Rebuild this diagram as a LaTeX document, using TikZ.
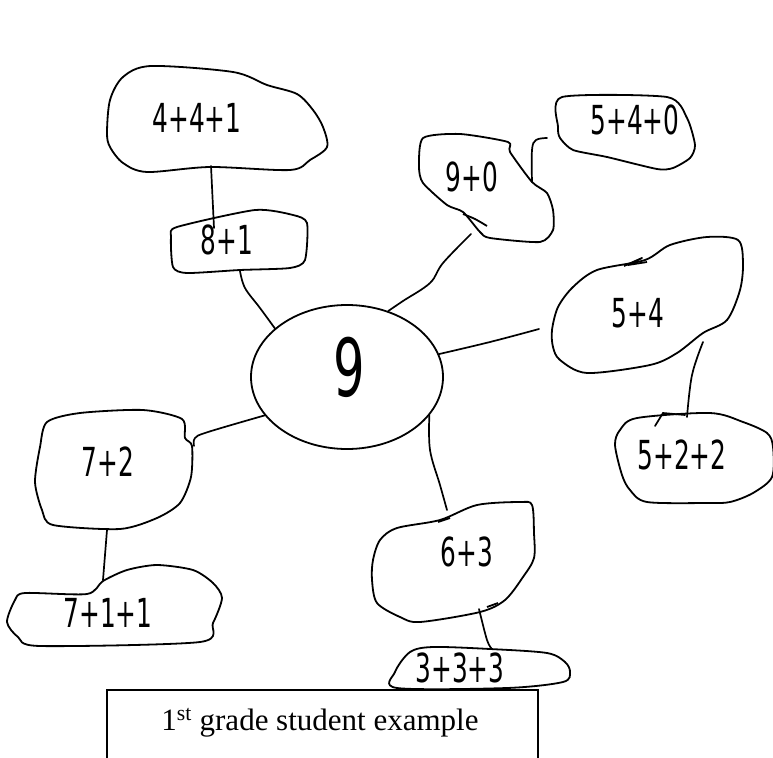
\documentclass[tikz,border=0pt]{standalone}
\usepackage{fontspec}
\setmainfont{Liberation Serif}
\newfontfamily\handfont{DejaVu Sans}[FakeStretch=0.62]
\usetikzlibrary{shapes.geometric}
\tikzset{
  blob/.style={line width=1.8pt, line join=round},
  hand/.style={font=\handfont\fontsize{40}{44}\selectfont, inner sep=0pt}
}

\begin{document}
\begin{tikzpicture}[x=1pt, y=-1pt,
  link/.style={line width=1.7pt, line cap=round},
  caption/.style={font=\fontsize{31}{36}\selectfont, anchor=base}
]
  \useasboundingbox (0,0) rectangle (773,757);
  % centre
  \node[draw, ellipse, line width=1.8pt, minimum width=192pt, minimum height=144pt, inner sep=0pt] (nine) at (347,377) {};
  \node[hand, font=\handfont\fontsize{80}{84}\selectfont] (t9) at (349,367) {9};
  % blobs
  \draw[blob] plot[smooth cycle, tension=0.5] coordinates {(151,66) (233,72) (267,85) (297,94) (313,110) (323,127) (327,147) (310,160) (290,170) (210,167) (147,172) (123,163) (110,147) (107,133) (110,100) (123,77)};
  \node[hand] (t441) at (197,118) {4+4+1};
  \draw[blob] plot[smooth cycle, tension=0.4] coordinates {(177,227) (255,210) (293,215) (307,223) (305,260) (290,268) (240,270) (187,273) (173,267) (171,237)};
  \node[hand] (t81) at (227,240) {8+1};
  \draw[blob] plot[smooth cycle, tension=0.4] coordinates {(423,138) (460,134) (508,142) (510,152) (532,182) (547,193) (553,210) (553,230) (540,242) (490,238) (480,232) (463,212) (447,205) (423,183) (419,167)};
  \draw[blob] plot[smooth, tension=0.5] coordinates {(463,214) (475,219) (487,226)};
  \node[hand] (t90) at (472,177) {9+0};
  \draw[blob] plot[smooth cycle, tension=0.4] coordinates {(562,97) (667,97) (687,118) (695,145) (690,158) (673,168) (657,169) (607,157) (573,150) (560,138) (558,127)};
  \node[hand] (t540) at (635,120) {5+4+0};
  \draw[blob] plot[smooth cycle, tension=0.5] coordinates {(738,240) (707,237) (670,245) (645,260) (597,270) (573,287) (558,307) (552,330) (553,347) (560,360) (587,373) (650,365) (677,353) (703,333) (727,320) (740,290) (743,263)};
  \draw[blob] (624,266) -- (642,258) -- (628,265) -- (647,262);
  \node[hand] (t54) at (638,313) {5+4};
  \draw[blob] plot[smooth cycle, tension=0.5] coordinates {(637,418) (710,413) (743,422) (767,433) (773,447) (772,477) (753,493) (730,502) (707,503) (647,502) (630,490) (622,475) (615,445) (620,430)};
  \node[hand] (t522) at (682,455) {5+2+2};
  \draw[blob] plot[smooth cycle, tension=0.5] coordinates {(440,520) (477,505) (520,502) (532,505) (534,533) (534,558) (523,577) (505,600) (480,612) (420,622) (400,617) (377,603) (372,580) (373,560) (380,540) (397,528)};
  \draw[blob] (438,522) -- (450,518);
  \draw[blob] (487,607) -- (498,603);
  \node[hand] (t63) at (467,552) {6+3};
  \draw[blob] plot[smooth cycle, tension=0.5] coordinates {(397,688) (395,672) (410,652) (433,647) (490,649) (547,653) (565,662) (570,672) (563,682) (507,688)};
  \node[hand] (t333) at (460,668) {3+3+3};
  \draw[blob] plot[smooth cycle, tension=0.45] coordinates {(47,422) (80,413) (143,410) (182,419) (185,438) (192,446) (191,477) (180,503) (157,518) (120,529) (53,525) (42,510) (35,482) (40,447)};
  \node[hand] (t72) at (108,462) {7+2};
  \draw[blob] plot[smooth cycle, tension=0.45] coordinates {(103,581) (127,570) (157,565) (193,570) (213,583) (222,598) (213,623) (200,642) (40,646) (18,637) (7,622) (15,600) (25,593) (87,594)};
  \node[hand] (t711) at (108,613) {7+1+1};
  % connector ends
  \coordinate (e441) at (211,166);
  \coordinate (e81top) at (214,228);
  \coordinate (e81) at (240,271);
  \coordinate (e90) at (471,234);
  \coordinate (e90r) at (532,182);
  \coordinate (e540) at (547,138);
  \coordinate (e54l) at (539,329);
  \coordinate (e54b) at (703,342);
  \coordinate (e522) at (687,417);
  \coordinate (e63t) at (447,510);
  \coordinate (e63b) at (479,609);
  \coordinate (e333) at (492,649);
  \coordinate (e72r) at (194,446);
  \coordinate (e72b) at (107,530);
  \coordinate (e711) at (103,580);
  % connectors
  \draw[link] (e441) -- (e81top);
  \draw[link] plot[smooth, tension=0.6] coordinates {(e81) (245,288) (260,308) (nine.146)};
  \draw[link] plot[smooth, tension=0.6] coordinates {(e90) (443,263) (430,283) (403,301) (nine.58)};
  \draw[link] plot[smooth, tension=0.6] coordinates {(e90r) (532,150) (536,140) (e540)};
  \draw[link] plot[smooth, tension=0.6] coordinates {(nine.14) (490,342) (e54l)};
  \draw[link] plot[smooth, tension=0.6] coordinates {(e54b) (692,375) (e522)};
  \draw[link] (655,426) -- (663,413) -- (685,415);
  \draw[link] plot[smooth, tension=0.6] coordinates {(nine.335) (430,450) (440,485) (e63t)};
  \draw[link] plot[smooth, tension=0.6] coordinates {(e63b) (487,640) (e333)};
  \draw[link] plot[smooth, tension=0.6] coordinates {(nine.205) (208,432) (195,438) (e72r)};
  \draw[link] (e72b) -- (e711);
  % caption
  \draw[line width=2pt, fill=white] (107,690) rectangle (538,775);
  \node[caption] (cap) at (320,730) {1\textsuperscript{st} grade student example};
\end{tikzpicture}
\end{document}
